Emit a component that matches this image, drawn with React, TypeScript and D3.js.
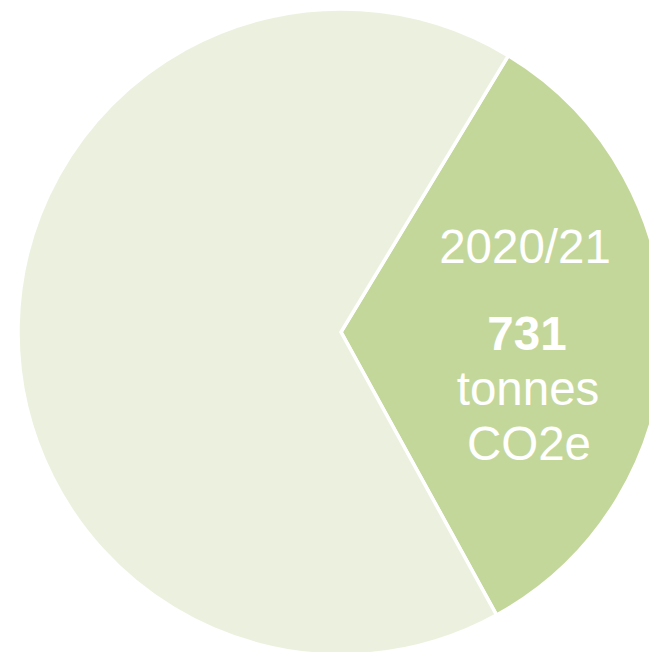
import React from "react";
import * as d3 from "d3";

const categories = ["2020/21", "Other"];
const values = [731, 1462];
const colors = ["#C4D79B", "#EBF1DE"];
const labelLines = ["2020/21", "731", "tonnes", "CO2e"];

const W = 649;
const H = 652;
const cx = 341;
const cy = 332;
const R = 323;

export default function App() {
  const start = (31.2 * Math.PI) / 180;
  const pie = d3
    .pie<number>()
    .sort(null)
    .value((d) => d)
    .startAngle(start)
    .endAngle(start + 2 * Math.PI);
  const arcs = pie(values);
  const arc = d3.arc<d3.PieArcDatum<number>>().innerRadius(0).outerRadius(R);

  return (
    <svg
      width={W}
      height={H}
      style={{ position: "absolute", left: 0, top: 0 }}
      fontFamily="'Liberation Sans', Arial, sans-serif"
    >
      <g transform={`translate(${cx},${cy})`}>
        {arcs.map((a, i) => (
          <path
            key={categories[i]}
            d={arc(a) || ""}
            fill={colors[i]}
            stroke="#ffffff"
            strokeWidth={3.5}
            strokeLinejoin="miter"
          />
        ))}
      </g>
      <g fill="#ffffff" fontSize={47.5} textAnchor="middle">
        <text x={525} y={263}>{labelLines[0]}</text>
        <text x={527} y={350} fontWeight="bold">{labelLines[1]}</text>
        <text x={528} y={405}>{labelLines[2]}</text>
        <text x={529} y={460}>{labelLines[3]}</text>
      </g>
    </svg>
  );
}
